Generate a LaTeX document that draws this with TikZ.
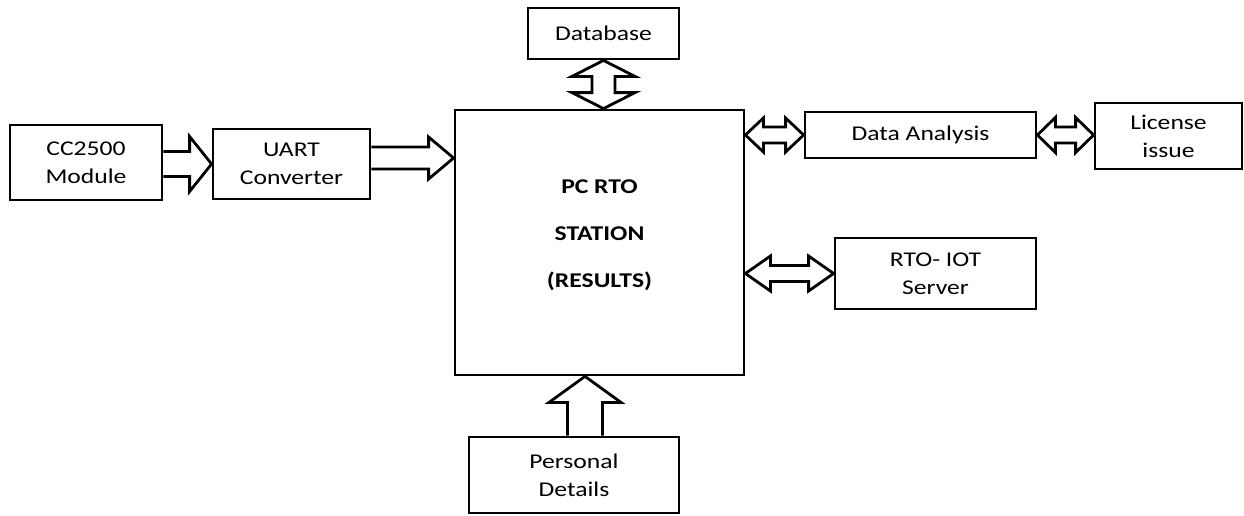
\documentclass[tikz,border=0pt]{standalone}
\usepackage{fontspec}
\setmainfont{Carlito}[FakeStretch=1.22]
\usetikzlibrary{calc}

% block arrows: #1 start, #2 tip, #3 half shaft, #4 half head, #5 head length
\newcommand{\sarrowh}[5]{\draw[blk] ($(#1)+(0,#3)$) -- ($(#2)+(-#5,#3)$) -- ($(#2)+(-#5,#4)$) -- (#2) -- ($(#2)+(-#5,-#4)$) -- ($(#2)+(-#5,-#3)$) -- ($(#1)+(0,-#3)$);}
\newcommand{\sarrowv}[5]{\draw[blk] ($(#1)+(#3,0)$) -- ($(#2)+(#3,#5)$) -- ($(#2)+(#4,#5)$) -- (#2) -- ($(#2)+(-#4,#5)$) -- ($(#2)+(-#3,#5)$) -- ($(#1)+(-#3,0)$);}
\newcommand{\darrowh}[5]{\draw[blk] (#1) -- ($(#1)+(#5,#4)$) -- ($(#1)+(#5,#3)$) -- ($(#2)+(-#5,#3)$) -- ($(#2)+(-#5,#4)$) -- (#2) -- ($(#2)+(-#5,-#4)$) -- ($(#2)+(-#5,-#3)$) -- ($(#1)+(#5,-#3)$) -- ($(#1)+(#5,-#4)$) -- cycle;}
\newcommand{\darrowv}[5]{\draw[blk] (#1) -- ($(#1)+(#4,#5)$) -- ($(#1)+(#3,#5)$) -- ($(#2)+(#3,-#5)$) -- ($(#2)+(#4,-#5)$) -- (#2) -- ($(#2)+(-#4,-#5)$) -- ($(#2)+(-#3,-#5)$) -- ($(#1)+(-#3,#5)$) -- ($(#1)+(-#4,#5)$) -- cycle;}

\begin{document}
\begin{tikzpicture}[x=0.5pt, y=-0.5pt,
    box/.style={draw, line width=1.4pt, inner sep=0pt, align=center, font=\fontsize{10.5}{14}\selectfont},
    blk/.style={draw, line width=1.4pt, fill=white, line join=miter}]
    \useasboundingbox (0,0) rectangle (1244,515);

    % boxes
    \node[box, minimum width=76pt, minimum height=37.5pt] (cc) at (86,162.5) {CC2500\\Module};
    \node[box, minimum width=78.5pt, minimum height=35pt] (uart) at (291.5,164) {UART\\Converter};
    \node[box, minimum width=144.5pt, minimum height=132.5pt,
        label={[font=\fontsize{10.5}{23.5}\selectfont\bfseries, align=center, yshift=3.5pt]center:PC RTO\\STATION\\(RESULTS)}] (pc) at (599.5,242.5) {};
    \node[box, minimum width=75.5pt, minimum height=25.5pt] (db) at (603.5,33.5) {Database};
    \node[box, minimum width=115.5pt, minimum height=23pt] (da) at (920.5,135) {Data Analysis};
    \node[box, minimum width=73.5pt, minimum height=33pt] (lic) at (1168.5,136) {License\\issue};
    \node[box, minimum width=100.5pt, minimum height=35.5pt] (iot) at (935.5,273.5) {RTO- IOT\\Server};
    \node[box, minimum width=105pt, minimum height=38pt] (pd) at (574,475) {Personal\\Details};

    % arrow ends
    \coordinate (ccout) at (cc.east |- uart.west);
    \coordinate (uartout) at ([yshift=3pt]uart.east);
    \coordinate (pcin) at (uartout -| pc.west);
    \coordinate (pdout) at ([xshift=5.5pt]pd.north);
    \coordinate (pcbot) at (pdout |- pc.south);
    \coordinate (pctop) at (db.south |- pc.north);
    \coordinate (pcda) at (pc.east |- da.west);
    \coordinate (lican) at (da.east -| lic.west);
    \coordinate (pciot) at (pc.east |- iot.west);

    % arrows
    \sarrowh{ccout}{uart.west}{12.5}{27.5}{22}
    \sarrowh{uartout}{pcin}{11}{21}{25}
    \sarrowv{pdout}{pcbot}{17.5}{36}{26}
    \darrowv{db.south}{pctop}{11.5}{31.5}{16}
    \darrowh{pcda}{da.west}{8}{17}{18}
    \darrowh{da.east}{lican}{8}{17.5}{18}
    \darrowh{pciot}{iot.west}{8}{17.5}{25}

\end{tikzpicture}
\end{document}
